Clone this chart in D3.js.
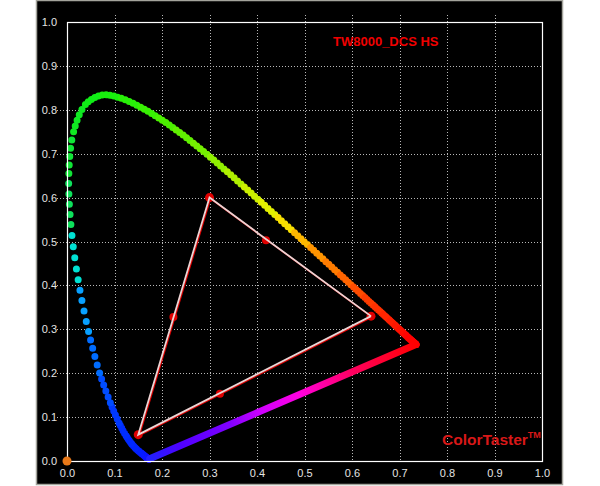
<!DOCTYPE html>
<html>
<head>
<meta charset="utf-8">
<script src="https://cdn.jsdelivr.net/npm/d3@7"></script>
<style>
body { margin: 0; background: #fff; }
text { font-family: Arial, "Liberation Sans", sans-serif; }
</style>
</head>
<body>
<svg id="chart" width="600" height="486"></svg>
<script>

// spectral locus (CIE 1931 2deg), 5nm steps
var wavelengths = [380,385,390,395,400,405,410,415,420,425,430,435,440,445,450,455,460,465,470,475,
    480,485,490,495,500,505,510,515,520,525,530,535,540,545,550,555,560,565,570,575,
    580,585,590,595,600,605,610,615,620,625,630,635,640,645,650,655,660,665,670,675,
    680,685,690,695,700];
var locusX = [0.1741,0.1740,0.1738,0.1736,0.1733,0.1730,0.1726,0.1721,0.1714,0.1703,0.1689,0.1669,0.1644,0.1611,0.1566,0.1510,0.1440,0.1355,0.1241,0.1096,
    0.0913,0.0687,0.0454,0.0235,0.0082,0.0039,0.0139,0.0389,0.0743,0.1142,0.1547,0.1929,0.2296,0.2658,0.3016,0.3373,0.3731,0.4087,0.4441,0.4788,
    0.5125,0.5448,0.5752,0.6029,0.6270,0.6482,0.6658,0.6801,0.6915,0.7006,0.7079,0.7140,0.7190,0.7230,0.7260,0.7283,0.7300,0.7311,0.7320,0.7327,
    0.7334,0.7340,0.7344,0.7346,0.7347];
var locusY = [0.0050,0.0050,0.0049,0.0049,0.0048,0.0048,0.0048,0.0048,0.0051,0.0058,0.0069,0.0086,0.0109,0.0138,0.0177,0.0227,0.0297,0.0399,0.0578,0.0868,
    0.1327,0.2007,0.2950,0.4127,0.5384,0.6548,0.7502,0.8120,0.8338,0.8262,0.8059,0.7816,0.7543,0.7243,0.6923,0.6589,0.6245,0.5896,0.5547,0.5202,
    0.4866,0.4544,0.4242,0.3965,0.3725,0.3514,0.3340,0.3197,0.3083,0.2993,0.2920,0.2859,0.2809,0.2770,0.2740,0.2717,0.2700,0.2689,0.2680,0.2673,
    0.2666,0.2660,0.2656,0.2654,0.2653];

// measured gamut: R, G, B
var primaryX = [0.64, 0.30, 0.15];
var primaryY = [0.33, 0.60, 0.06];
// secondaries: Y, C, M
var secondaryX = [0.419, 0.224, 0.322];
var secondaryY = [0.503, 0.328, 0.153];
// marker at origin
var originX = [0.0];
var originY = [0.0];

var tickValues = [0, 0.1, 0.2, 0.3, 0.4, 0.5, 0.6, 0.7, 0.8, 0.9, 1.0];
var gridValues = [0.1, 0.2, 0.3, 0.4, 0.5, 0.6, 0.7, 0.8, 0.9];
var chartTitle = "TW8000_DCS HS";
var brand = "ColorTaster";

var svg = d3.select('#chart');

var x = d3.scaleLinear().domain([0, 1]).range([67, 542]);
var y = d3.scaleLinear().domain([0, 1]).range([461, 22]);

// wavelength -> dot colour
var waveColor = d3.scaleLinear()
    .domain([380, 440, 460, 475, 480, 485, 490, 495, 497, 500, 503, 510, 520, 535, 550, 560, 570, 575, 580, 590, 600, 615, 640, 700])
    .range(['#3000ff', '#1010ff', '#0020ff', '#0030ff', '#0040ff', '#0058ff', '#0080ff', '#10c0ff', '#00e0e0', '#00e890',
        '#10e050', '#10e828', '#10f010', '#40f000', '#80f000', '#c0f000', '#f0f000', '#ffd000', '#ffa000', '#ff7000',
        '#ff4000', '#ff2000', '#ff0000', '#ff0000'])
    .interpolate(d3.interpolateRgb);

// background panel
svg.append('rect')
    .attr('x', 36.5).attr('y', 0.5)
    .attr('width', 526).attr('height', 484)
    .attr('fill', '#000')
    .attr('stroke', '#a4a49c')
    .attr('stroke-width', 1.5);

// grid
var grid = svg.append('g')
    .attr('stroke', '#b8b8b8')
    .attr('stroke-width', 1)
    .attr('stroke-dasharray', '1,2');

grid.selectAll('.vg').data(gridValues).enter().append('line')
    .attr('class', 'vg')
    .attr('x1', function(d){ return Math.round(x(d)) + 0.5; })
    .attr('x2', function(d){ return Math.round(x(d)) + 0.5; })
    .attr('y1', y(1) - 7)
    .attr('y2', y(0));

grid.selectAll('.hg').data(gridValues).enter().append('line')
    .attr('class', 'hg')
    .attr('y1', function(d){ return Math.round(y(d)) + 0.5; })
    .attr('y2', function(d){ return Math.round(y(d)) + 0.5; })
    .attr('x1', x(0) - 10)
    .attr('x2', x(1));

// tick labels
var xAxis = d3.axisBottom(x).tickValues(tickValues).tickSize(0).tickPadding(8).tickFormat(d3.format('.1f'));
var yAxis = d3.axisLeft(y).tickValues(tickValues).tickSize(0).tickPadding(10).tickFormat(d3.format('.1f'));

var gx = svg.append('g').attr('transform', 'translate(0,' + y(0) + ')').call(xAxis);
var gy = svg.append('g').attr('transform', 'translate(' + x(0) + ',0)').call(yAxis);
[gx, gy].forEach(function(g){
    g.select('.domain').remove();
    g.selectAll('text')
        .attr('fill', '#e4e4e4')
        .style('font-size', '11px')
        .style('font-family', 'Arial, "Liberation Sans", sans-serif');
});

// spectral locus: one smooth curve, drawn as dots per 5nm piece
var pts = wavelengths.map(function(w, i){ return {w: w, x: locusX[i], y: locusY[i]}; });
var line = d3.line()
    .x(function(d){ return x(d.x); })
    .y(function(d){ return y(d.y); });
var smoothLine = d3.line()
    .curve(d3.curveCatmullRom.alpha(0.5))
    .x(function(d){ return x(d.x); })
    .y(function(d){ return y(d.y); });

// length along the curve at each sample
var probe = svg.append('path').attr('fill', 'none');
var lens = pts.map(function(p, i){
    if (i === 0) return 0;
    probe.attr('d', smoothLine(pts.slice(0, i + 1)));
    return probe.node().getTotalLength();
});
probe.remove();
var total = lens[lens.length - 1];
var locusPath = smoothLine(pts);

svg.append('g').selectAll('path')
    .data(d3.range(pts.length - 1))
    .enter().append('path')
    .attr('d', locusPath)
    .attr('fill', 'none')
    .attr('stroke', function(i){ return waveColor((pts[i].w + pts[i + 1].w) / 2); })
    .attr('stroke-width', 7)
    .attr('stroke-linecap', 'round')
    .attr('stroke-dasharray', function(i){
        var d = Math.max((lens[i + 1] - lens[i]) / 5, 0.01);
        return [0, d, 0, d, 0, d, 0, d, 0, total + 50].join(' ');
    })
    .attr('stroke-dashoffset', function(i){ return -lens[i]; });

// last sample
svg.append('circle')
    .datum(pts[pts.length - 1])
    .attr('cx', function(d){ return x(d.x); })
    .attr('cy', function(d){ return y(d.y); })
    .attr('r', 3.5)
    .attr('fill', function(d){ return waveColor(d.w); });

// line of purples
var ends = [pts[pts.length - 1], pts[0]];
var grad = svg.append('defs').append('linearGradient')
    .attr('id', 'purple')
    .attr('gradientUnits', 'userSpaceOnUse')
    .attr('x1', x(ends[0].x)).attr('y1', y(ends[0].y))
    .attr('x2', x(ends[1].x)).attr('y2', y(ends[1].y));
[[0, '#ff0000'], [0.24, '#ff0060'], [0.44, '#ff00e0'], [0.58, '#d000ff'], [0.70, '#8000ff'], [0.88, '#5000ff'], [1, '#2020ff']]
    .forEach(function(s){
        grad.append('stop').attr('offset', s[0]).attr('stop-color', s[1]);
    });

svg.append('path')
    .datum(ends)
    .attr('d', line)
    .attr('fill', 'none')
    .attr('stroke', 'url(#purple)')
    .attr('stroke-width', 7)
    .attr('stroke-linecap', 'round');

// plot frame
svg.append('rect')
    .attr('x', x(0) + 0.5).attr('y', y(1) + 0.5)
    .attr('width', x(1) - x(0)).attr('height', y(0) - y(1))
    .attr('fill', 'none')
    .attr('stroke', '#fff')
    .attr('stroke-width', 1.2);

// gamut triangle
var prim = primaryX.map(function(v, i){ return {x: v, y: primaryY[i]}; });
var sec = secondaryX.map(function(v, i){ return {x: v, y: secondaryY[i]}; });
var tri = prim.concat([prim[0]]);

svg.append('g').selectAll('circle')
    .data(prim.concat(sec))
    .enter().append('circle')
    .attr('cx', function(d){ return x(d.x); })
    .attr('cy', function(d){ return y(d.y); })
    .attr('r', function(d, i){ return i < 3 ? 4.5 : 4; })
    .attr('fill', '#e00000');

svg.append('path')
    .attr('d', line(tri))
    .attr('transform', 'translate(1,1)')
    .attr('fill', 'none')
    .attr('stroke', '#e00000')
    .attr('stroke-width', 1.5);

svg.append('path')
    .attr('d', line(tri))
    .attr('fill', 'none')
    .attr('stroke', '#ecd4d4')
    .attr('stroke-width', 1.8);

// origin marker
svg.append('g').selectAll('circle')
    .data(originX.map(function(v, i){ return {x: v, y: originY[i]}; }))
    .enter().append('circle')
    .attr('cx', function(d){ return x(d.x); })
    .attr('cy', function(d){ return y(d.y); })
    .attr('r', 4.5)
    .attr('fill', '#e87818');

// title and brand
svg.append('text')
    .attr('x', 333).attr('y', 46)
    .attr('fill', '#f00000')
    .style('font-size', '13px')
    .style('font-weight', 'bold')
    .text(chartTitle);

var bt = svg.append('text')
    .attr('x', 442).attr('y', 445)
    .attr('fill', '#d81818')
    .style('font-size', '15.5px')
    .style('font-weight', 'bold')
    .text(brand);
bt.append('tspan')
    .attr('dy', -7)
    .style('font-size', '9px')
    .text('TM');

</script>
</body>
</html>
